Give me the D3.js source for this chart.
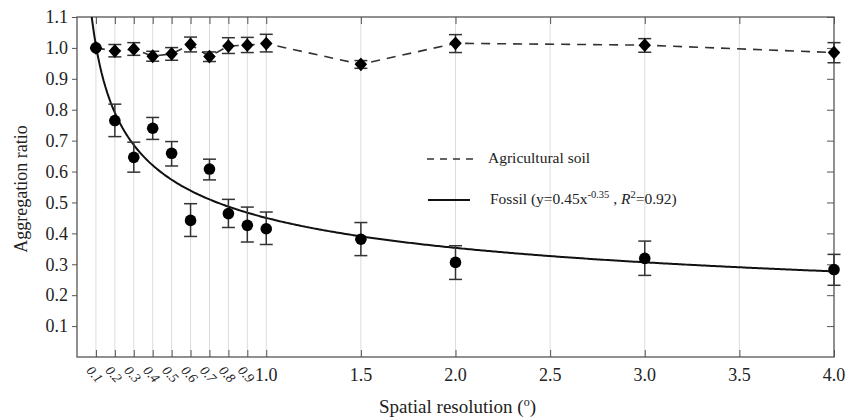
<!DOCTYPE html>
<html><head><meta charset="utf-8">
<script src="https://cdn.jsdelivr.net/npm/d3@7"></script>
<style>body{margin:0;background:#fff}svg{display:block}
svg text{font-family:"Liberation Serif","Times New Roman",Times,"DejaVu Serif",serif !important;}</style>
</head><body><svg id="c" width="851" height="420"></svg>
<script>
const resolutions = [0.1,0.2,0.3,0.4,0.5,0.6,0.7,0.8,0.9,1.0,1.5,2.0,3.0,4.0];
const agriMean = [1.000,0.990,0.996,0.973,0.981,1.011,0.972,1.006,1.009,1.014,0.947,1.015,1.009,0.985];
const agriHigh = [1.000,1.011,1.017,0.989,1.001,1.035,0.987,1.033,1.034,1.044,0.959,1.043,1.030,1.017];
const agriLow  = [1.000,0.971,0.976,0.957,0.960,0.987,0.956,0.982,0.985,0.987,0.934,0.985,0.986,0.952];
const fossilMean = [1.000,0.765,0.646,0.740,0.659,0.442,0.608,0.464,0.426,0.415,0.381,0.306,0.319,0.283];
const fossilHigh = [1.000,0.818,0.695,0.775,0.697,0.496,0.640,0.510,0.485,0.469,0.435,0.360,0.375,0.332];
const fossilLow  = [1.000,0.713,0.598,0.704,0.618,0.390,0.573,0.419,0.372,0.364,0.328,0.251,0.264,0.232];
const fitA = 0.45, fitB = -0.35;
const xTicks = [0.1,0.2,0.3,0.4,0.5,0.6,0.7,0.8,0.9,1.0,1.5,2.0,2.5,3.0,3.5,4.0];
const smallTickLabels = ["0.1","0.2","0.3","0.4","0.5","0.6","0.7","0.8","0.9"];
const yTicks = [0.1,0.2,0.3,0.4,0.5,0.6,0.7,0.8,0.9,1.0,1.1];

const svg = d3.select("#c");
const L=77, R=834, T=17, B=357;
const x = d3.scaleLinear().domain([0,4]).range([L,R]);
const y = d3.scaleLinear().domain([0,1.1]).range([B,T]);
const serif = "Liberation Serif, Times New Roman, serif";
const axisCol = "#555";

// gridlines
svg.append("g").selectAll("line").data(xTicks.filter(d=>d<4)).join("line")
  .attr("x1",d=>x(d)).attr("x2",d=>x(d)).attr("y1",T).attr("y2",B)
  .attr("stroke","#dcdcdc").attr("stroke-width",1);

// frame
svg.append("rect").attr("x",L).attr("y",T).attr("width",R-L).attr("height",B-T)
  .attr("fill","none").attr("stroke",axisCol).attr("stroke-width",1.3);

// left axis
const yAxis = d3.axisLeft(y).tickValues(yTicks).tickFormat(d3.format(".1f")).tickSize(5).tickPadding(4);
const gy = svg.append("g").attr("transform",`translate(${L},0)`).call(yAxis);
gy.select(".domain").remove();
gy.selectAll("line").attr("stroke",axisCol);
gy.selectAll("text").attr("font-family",serif).attr("font-size",18).attr("fill","#222");
// right axis inward ticks
const gr = svg.append("g").attr("transform",`translate(${R},0)`).call(d3.axisLeft(y).tickValues(yTicks).tickSize(7).tickFormat(""));
gr.select(".domain").remove(); gr.selectAll("line").attr("stroke",axisCol);
// bottom axis inward ticks
const gb = svg.append("g").attr("transform",`translate(0,${B})`).call(d3.axisTop(x).tickValues(xTicks).tickSize(7).tickFormat(""));
gb.select(".domain").remove(); gb.selectAll("line").attr("stroke",axisCol);
// top axis inward ticks
const gt = svg.append("g").attr("transform",`translate(0,${T})`).call(d3.axisBottom(x).tickValues(xTicks).tickSize(7).tickFormat(""));
gt.select(".domain").remove(); gt.selectAll("line").attr("stroke",axisCol);

// x labels
const bigLabels = xTicks.filter(d=>d>=1);
svg.append("g").selectAll("text").data(bigLabels).join("text")
  .attr("x",d=>x(d)).attr("y",B+24).attr("text-anchor","middle")
  .attr("font-family",serif).attr("font-size",18).attr("fill","#222")
  .text(d=>d3.format(".1f")(d));
svg.append("g").selectAll("text").data(smallTickLabels).join("text")
  .attr("transform",(d)=>`translate(${x(+d)-1},${B+17}) rotate(48)`)
  .attr("text-anchor","middle").attr("dy","0.35em")
  .attr("font-family",serif).attr("font-size",13.5).attr("font-style","italic").attr("fill","#222")
  .text(d=>d);

// axis titles
svg.append("text").attr("x",(L+R)/2+2).attr("y",413).attr("text-anchor","middle")
  .attr("font-family",serif).attr("font-size",19).attr("fill","#222")
  .html('Spatial resolution (<tspan dy="-7" font-size="12">o</tspan><tspan dy="7">)</tspan>');
svg.append("text").attr("transform",`translate(27,${(T+B)/2+2}) rotate(-90)`).attr("text-anchor","middle")
  .attr("font-family",serif).attr("font-size",18).attr("fill","#222").text("Aggregation ratio");

// clip
svg.append("clipPath").attr("id","clip").append("rect").attr("x",L).attr("y",T).attr("width",R-L).attr("height",B-T);

// fitted curve (from stated fit parameters)
const xs = d3.range(0.06,4.0001,0.01);
svg.append("path").datum(xs).attr("clip-path","url(#clip)")
  .attr("d",d3.line().x(d=>x(d)).y(d=>y(fitA*Math.pow(d,fitB))))
  .attr("fill","none").attr("stroke","#111").attr("stroke-width",2);

// agricultural dashed line
svg.append("path").datum(resolutions.map((r,i)=>[r,agriMean[i]]))
  .attr("d",d3.line().x(d=>x(d[0])).y(d=>y(d[1])))
  .attr("fill","none").attr("stroke","#333").attr("stroke-width",1.6).attr("stroke-dasharray","9,7");

// error bars
function errorBars(hi,lo){
  const g = svg.append("g").attr("stroke","#333").attr("stroke-width",1.5);
  resolutions.forEach((r,i)=>{
    if (hi[i]-lo[i] < 0.001) return;
    const cx = x(r);
    g.append("line").attr("x1",cx).attr("x2",cx).attr("y1",y(hi[i])).attr("y2",y(lo[i]));
    g.append("line").attr("x1",cx-6.5).attr("x2",cx+6.5).attr("y1",y(hi[i])).attr("y2",y(hi[i]));
    g.append("line").attr("x1",cx-6.5).attr("x2",cx+6.5).attr("y1",y(lo[i])).attr("y2",y(lo[i]));
  });
}
errorBars(fossilHigh,fossilLow);
errorBars(agriHigh,agriLow);

// markers
svg.append("g").selectAll("circle").data(resolutions.map((r,i)=>[r,fossilMean[i]])).join("circle")
  .attr("cx",d=>x(d[0])).attr("cy",d=>y(d[1])).attr("r",5.8).attr("fill","#000");
svg.append("g").selectAll("path").data(resolutions.map((r,i)=>[r,agriMean[i]])).join("path")
  .attr("transform",d=>`translate(${x(d[0])},${y(d[1])}) scale(1,1.1)`)
  .attr("d",d3.symbol(d3.symbolDiamond2,100)).attr("fill","#000");

// legend
svg.append("line").attr("x1",427).attr("x2",478).attr("y1",159).attr("y2",159)
  .attr("stroke","#333").attr("stroke-width",1.5).attr("stroke-dasharray","7,6");
svg.append("text").attr("x",488).attr("y",163).attr("font-family",serif).attr("font-size",15.5).attr("fill","#222").text("Agricultural soil");
svg.append("line").attr("x1",428).attr("x2",470).attr("y1",200).attr("y2",200)
  .attr("stroke","#111").attr("stroke-width",2.2);
svg.append("text").attr("x",490).attr("y",204).attr("font-family",serif).attr("font-size",15.5).attr("fill","#222")
  .html('Fossil (y=0.45x<tspan dy="-6" font-size="10.5">-0.35</tspan><tspan dy="6"> , </tspan><tspan font-style="italic">R</tspan><tspan dy="-6" font-size="10.5">2</tspan><tspan dy="6">=0.92)</tspan>');
</script></body></html>
